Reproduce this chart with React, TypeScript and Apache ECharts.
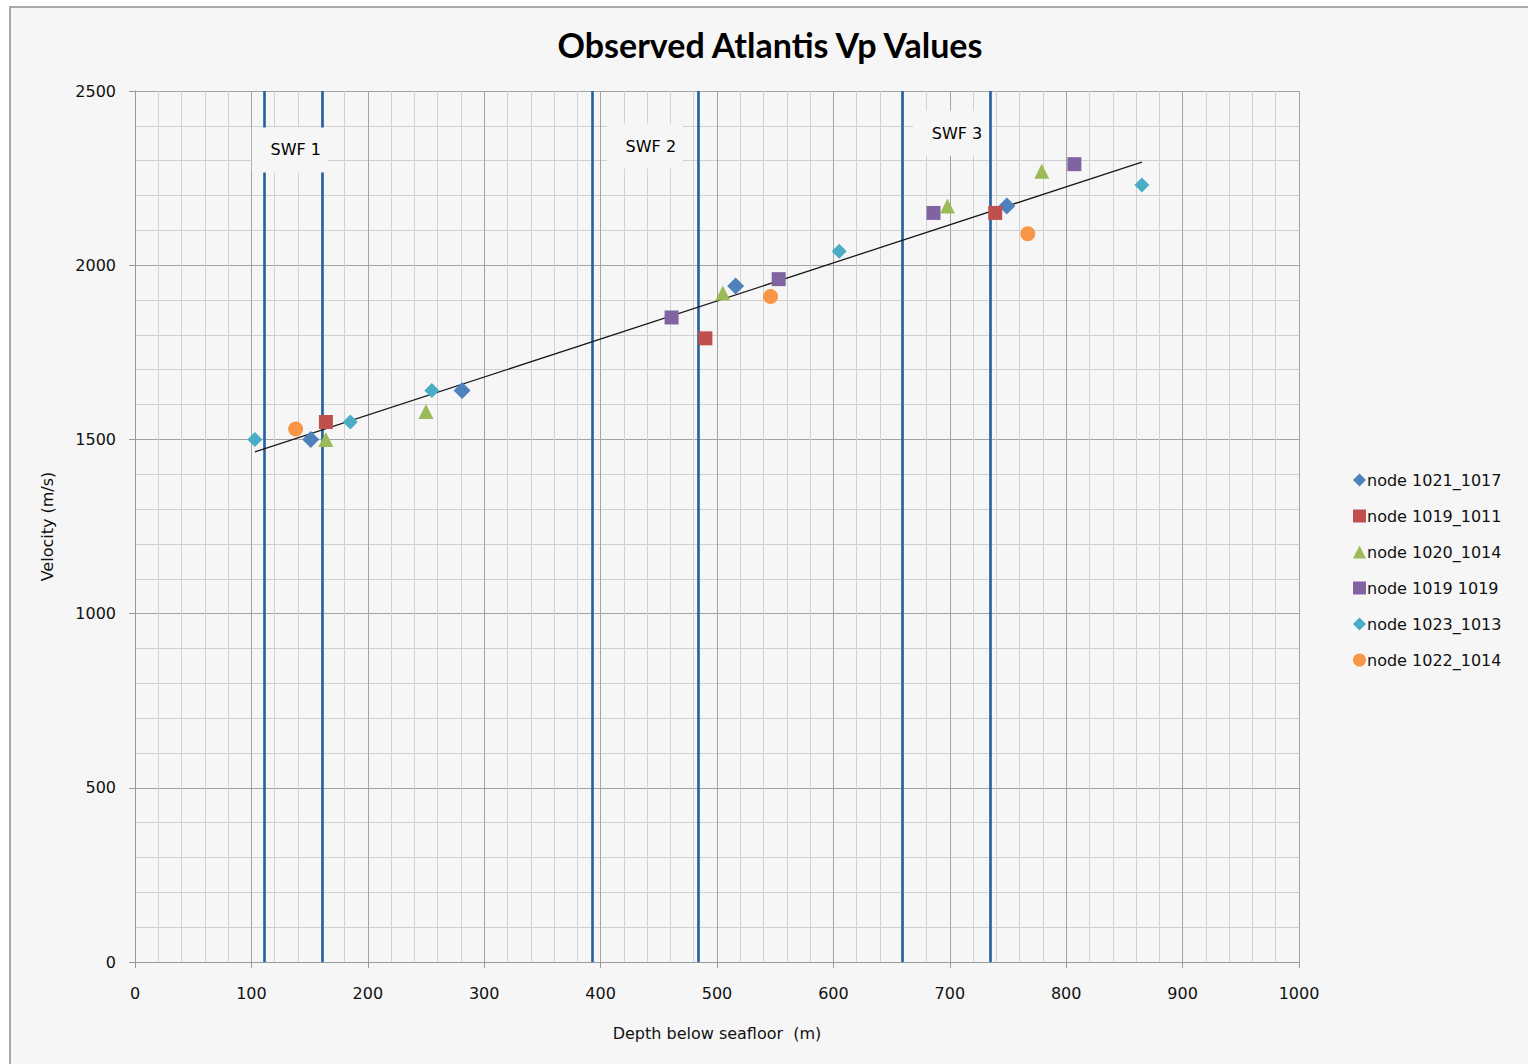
import React, { useEffect, useRef } from "react";
import * as echarts from "echarts";

const seriesNames = [
  "node 1021_1017",
  "node 1019_1011",
  "node 1020_1014",
  "node 1019 1019",
  "node 1023_1013",
  "node 1022_1014",
];
const node1021_1017: number[][] = [[151, 1500], [281, 1640], [516, 1940], [749, 2170]];
const node1019_1011: number[][] = [[164, 1550], [490, 1790], [739, 2150]];
const node1020_1014: number[][] = [[164, 1500], [250, 1580], [505, 1920], [698, 2170], [779, 2270]];
const node1019_1019: number[][] = [[461, 1850], [553, 1960], [686, 2150], [807, 2290]];
const node1023_1013: number[][] = [[103, 1500], [185, 1550], [255, 1640], [605, 2040], [865, 2230]];
const node1022_1014: number[][] = [[138, 1530], [546, 1910], [767, 2090]];
const trendLine: number[][] = [[103, 1464], [865, 2296]];
const swfBoundaries = [111, 161, 393, 484, 659, 735];
const swfLabels = ["SWF 1", "SWF 2", "SWF 3"];
const swfLabelPos: number[][] = [[133, 2331], [438, 2342], [701, 2379]];
const xTicks = [0, 100, 200, 300, 400, 500, 600, 700, 800, 900, 1000];
const yTicks = [0, 500, 1000, 1500, 2000, 2500];

const colors = ["#4F81BD", "#C0504D", "#9BBB59", "#8064A2", "#4BACC6", "#F79646"];
const symbols = ["diamond", "rect", "triangle", "rect", "diamond", "circle"];
const sizes = [17, 14, 15, 14, 15, 15];
const datasets = [node1021_1017, node1019_1011, node1020_1014, node1019_1019, node1023_1013, node1022_1014];

const BG = "#f6f6f6";
const FONT = "DejaVu Sans";

export default function App() {
  const ref = useRef<HTMLDivElement>(null);
  useEffect(() => {
    document.body.style.margin = "0";
    document.body.style.background = "#ffffff";
    const chart = echarts.init(ref.current!, undefined, { renderer: "svg" });
    const scatterSeries = datasets.map((d, i) => ({
      name: seriesNames[i],
      type: "scatter",
      data: d,
      symbol: symbols[i],
      symbolSize: sizes[i],
      itemStyle: { color: colors[i], opacity: 1 },
      z: 6,
    }));
    chart.setOption({
      animation: false,
      backgroundColor: "#ffffff",
      graphic: [
        {
          type: "rect",
          shape: { x: 10, y: 7, width: 1530, height: 1070 },
          style: { fill: BG, stroke: "#a9a9a9", lineWidth: 2 },
          z: -10,
          silent: true,
        },
      ],
      title: {
        text: "Observed Atlantis Vp Values",
        left: 765,
        textAlign: "center",
        top: 22,
        textStyle: { fontFamily: "Lato", fontWeight: "bold", fontSize: 34, color: "#000" },
      },
      legend: {
        orient: "vertical",
        left: 1348,
        top: 467,
        itemWidth: 13,
        itemHeight: 13,
        itemGap: 20,
        data: seriesNames.map((n, i) => ({ name: n, icon: symbols[i] })),
        textStyle: { fontFamily: FONT, fontSize: 16, color: "#111", padding: [0, 0, 0, -4], lineHeight: 16 },
      },
      grid: { left: 135, right: 229, top: 91, bottom: 102, containLabel: false },
      xAxis: {
        type: "value",
        min: 0,
        max: 1000,
        interval: 100,
        name: "Depth below seafloor  (m)",
        nameLocation: "middle",
        nameGap: 63,
        nameTextStyle: { fontFamily: FONT, fontSize: 16, color: "#111" },
        axisLine: { show: true, lineStyle: { color: "#9a9a9a", width: 1 } },
        axisTick: { show: true, length: 6, lineStyle: { color: "#9a9a9a" } },
        axisLabel: {
          fontFamily: FONT,
          fontSize: 16,
          color: "#111",
          margin: 23,
          formatter: (v: number) => (xTicks.includes(v) ? String(v) : ""),
        },
        splitLine: { show: true, lineStyle: { color: "#a3a3a3", width: 1 } },
        minorTick: { show: false, splitNumber: 5 },
        minorSplitLine: { show: true, lineStyle: { color: "#d2d2d2", width: 1 } },
      },
      yAxis: {
        type: "value",
        min: 0,
        max: 2500,
        interval: 500,
        name: "Velocity (m/s)",
        nameLocation: "middle",
        nameGap: 80,
        nameRotate: 90,
        nameTextStyle: { fontFamily: FONT, fontSize: 16, color: "#111" },
        axisLine: { show: true, lineStyle: { color: "#9a9a9a", width: 1 } },
        axisTick: { show: true, length: 6, lineStyle: { color: "#9a9a9a" } },
        axisLabel: {
          fontFamily: FONT,
          fontSize: 16,
          color: "#111",
          margin: 19,
          formatter: (v: number) => (yTicks.includes(v) ? String(v) : ""),
        },
        splitLine: { show: true, lineStyle: { color: "#a3a3a3", width: 1 } },
        minorTick: { show: false, splitNumber: 5 },
        minorSplitLine: { show: true, lineStyle: { color: "#cfcfcf", width: 1 } },
      },
      series: [
        {
          name: "swf-lines",
          type: "line",
          data: [],
          z: 2,
          silent: true,
          markLine: {
            silent: true,
            z: 2,
            symbol: ["none", "none"],
            label: { show: false },
            lineStyle: { color: "#245f9f", width: 2.6, type: "solid" },
            data: swfBoundaries.map((x) => ({ xAxis: x })),
          },
        },
        {
          name: "swf-labels",
          type: "scatter",
          silent: true,
          z: 4,
          data: swfLabelPos.map((p, i) => ({ value: p, name: swfLabels[i] })),
          symbol: "rect",
          symbolSize: [76, 45],
          itemStyle: { color: BG, opacity: 1 },
          label: {
            show: true,
            position: "inside",
            offset: [6, 0],
            formatter: (p: any) => p.name,
            fontFamily: FONT,
            fontSize: 16,
            color: "#000",
          },
        },
        {
          name: "trend",
          type: "line",
          data: trendLine,
          symbol: "none",
          silent: true,
          z: 5,
          lineStyle: { color: "#1a1a1a", width: 1.3 },
        },
        ...scatterSeries,
      ],
    });
    return () => chart.dispose();
  }, []);
  return <div ref={ref} style={{ width: 1528, height: 1064 }} />;
}
